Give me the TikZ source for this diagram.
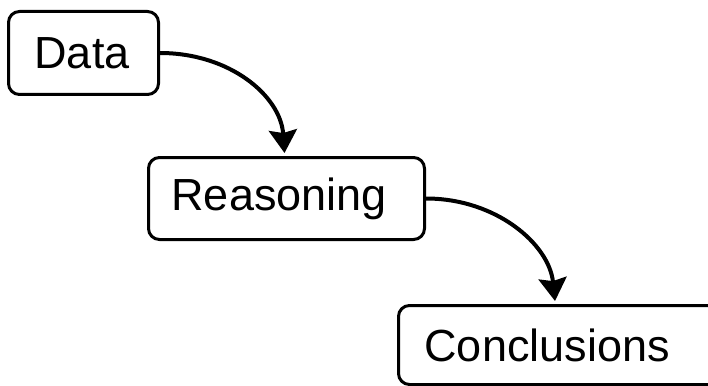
\documentclass[tikz,border=0pt]{standalone}
\usepackage{fontspec}
\setmainfont{Liberation Sans}
\usetikzlibrary{arrows.meta}
\tikzset{bighead/.tip={Stealth[length=23pt,width=28pt,inset=3pt]}}
\begin{document}
\begin{tikzpicture}[x=1pt,y=-1pt,
  stepbox/.style={draw, line width=3pt, rounded corners=11pt, inner ysep=0pt, align=left,
    font=\fontsize{45}{54}\selectfont, anchor=north west},
  flow/.style={line width=4pt, arrows={-bighead}}]
\useasboundingbox (0,0) rectangle (708,385);
\node[stepbox, inner xsep=26pt, text width=98pt, minimum height=83pt] (data) at (7,10) {Data};
\node[stepbox, inner xsep=23pt, text width=230pt, minimum height=82pt] (reas) at (147,156) {Reasoning};
\node[stepbox, inner xsep=26pt, text width=290pt, minimum height=79pt] (concl) at (397,304) {Conclusions};
\draw[flow] (data.east) .. controls ([xshift=70pt]data.east) and ([xshift=-6pt,yshift=60pt]reas.north) .. ([xshift=-2pt,yshift=3pt]reas.north);
\draw[flow] (reas.east) .. controls ([xshift=70pt]reas.east) and ([xshift=152pt,yshift=60pt]concl.north west) .. ([xshift=158pt,yshift=3pt]concl.north west);
\end{tikzpicture}
\end{document}
